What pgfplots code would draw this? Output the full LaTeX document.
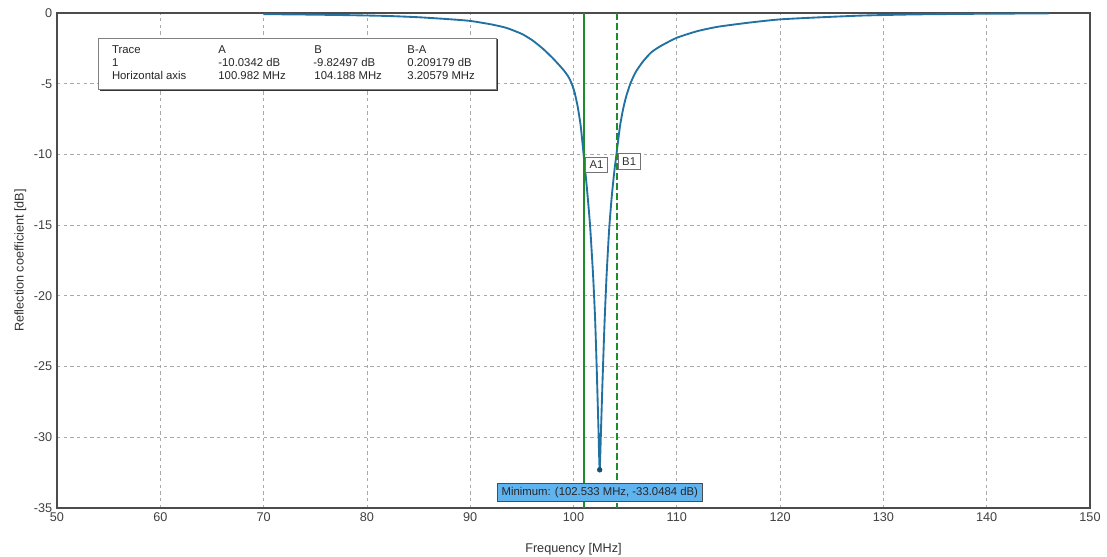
\documentclass[border=0pt]{standalone}
\usepackage{fontspec}
\setmainfont{Liberation Sans}
\usepackage{pgfplots}
\pgfplotsset{compat=1.18}
\definecolor{trace}{RGB}{33,113,163}
\definecolor{mkgreen}{RGB}{30,140,40}
\definecolor{minfill}{RGB}{95,180,240}
\definecolor{gridgray}{RGB}{170,170,170}

\pgfplotstableread{
f db
70 -0.08
74 -0.11
78 -0.15
82 -0.21
85 -0.30
88 -0.44
90 -0.56
92 -0.80
93.5 -1.05
95 -1.48
96 -1.92
97 -2.50
98 -3.20
99 -4.00
99.5 -4.50
99.8 -4.95
100.1 -5.60
100.4 -6.60
100.7 -8.00
100.982 -10.03
101.3 -12.4
101.6 -15.0
101.9 -18.6
102.1 -21.8
102.25 -25.2
102.4 -29.0
102.533 -32.3
102.67 -29.3
102.82 -25.8
103.0 -22.0
103.2 -18.6
103.45 -15.3
103.7 -13.0
103.95 -11.2
104.188 -9.82
104.5 -8.0
104.8 -6.8
105.1 -5.9
105.5 -5.0
106 -4.2
106.7 -3.45
107.5 -2.8
108.4 -2.35
110 -1.75
112 -1.28
114 -0.97
117 -0.68
120 -0.45
124 -0.30
128 -0.18
133 -0.10
140 -0.05
146 -0.03
}\trace

\begin{document}
\begin{tikzpicture}[x=1pt,y=1pt]
\useasboundingbox (-42.75,-36.75) rectangle (787.5,381);
\begin{axis}[
  at={(0,0)}, anchor=south west,
  scale only axis,
  width=774.75pt, height=371.25pt,
  xmin=50, xmax=150, ymin=-35, ymax=0,
  xtick={50,60,...,150},
  ytick={-35,-30,...,0},
  yticklabels={-35,-30,-25,-20,-15,-10,-5,0},
  tick label style={font=\fontsize{9.5}{11}\selectfont, text=black!75},
  /pgf/number format/assume math mode=true,
  major tick length=0pt,
  grid=major,
  major grid style={gridgray, dash pattern=on 2.5pt off 2.5pt, line width=0.6pt},
  axis line style={black!70, line width=0.8pt},
  xlabel={Frequency [MHz]},
  ylabel={Reflection coefficient [dB]},
  label style={font=\fontsize{9.5}{11}\selectfont, text=black!80},
  xlabel style={yshift=-9pt},
  ylabel style={yshift=-1pt},
  clip=false,
]
% info table
\draw[black!80, line width=1.1pt] (axis cs:54.2,-1.9) -- (axis cs:92.6,-1.9) -- (axis cs:92.6,-5.45) -- (axis cs:54.2,-5.45);
\draw[black!50, fill=white, line width=0.4pt] (axis cs:53.97,-1.77) rectangle (axis cs:92.5,-5.38);
\begin{scope}[every node/.style={anchor=base west, font=\fontsize{8.5}{10}\selectfont, inner sep=0pt, text=black!85}]
\node at (axis cs:55.3,-2.85) {Trace};
\node at (axis cs:65.6,-2.85) {A};
\node at (axis cs:74.9,-2.85) {B};
\node at (axis cs:83.9,-2.85) {B-A};
\node at (axis cs:55.3,-3.77) {1};
\node at (axis cs:65.6,-3.77) {-10.0342 dB};
\node at (axis cs:74.8,-3.77) {-9.82497 dB};
\node at (axis cs:83.9,-3.77) {0.209179 dB};
\node at (axis cs:55.3,-4.69) {Horizontal axis};
\node at (axis cs:65.6,-4.69) {100.982 MHz};
\node at (axis cs:74.9,-4.69) {104.188 MHz};
\node at (axis cs:83.9,-4.69) {3.20579 MHz};
\end{scope}
% trace
\addplot[trace, line width=1.4pt, smooth, tension=0.35] table[x=f, y=db] {\trace};
\addplot[only marks, mark=*, mark size=1.8pt, color=trace!70!black] coordinates {(102.533,-32.3)};
% markers A and B
\addplot[mkgreen, line width=1.3pt] coordinates {(100.982,0) (100.982,-35)};
\addplot[mkgreen, line width=1.3pt, dash pattern=on 5pt off 2.5pt] coordinates {(104.188,0) (104.188,-35)};
\node[anchor=north west, draw=black!55, fill=white, font=\fontsize{8.5}{10}\selectfont, inner sep=3pt, text=black!80] at (axis cs:101.15,-10.15) {A1};
\node[anchor=north west, draw=black!55, fill=white, font=\fontsize{8.5}{10}\selectfont, inner sep=3pt, text=black!80] at (axis cs:104.3,-9.9) {B1};
% minimum label
\node[draw=black!70, fill=minfill, font=\fontsize{8.5}{10}\selectfont, inner sep=3pt, text=black!85] at (axis cs:102.55,-33.9) {Minimum: (102.533 MHz, -33.0484 dB)};
\end{axis}
\end{tikzpicture}
\end{document}
